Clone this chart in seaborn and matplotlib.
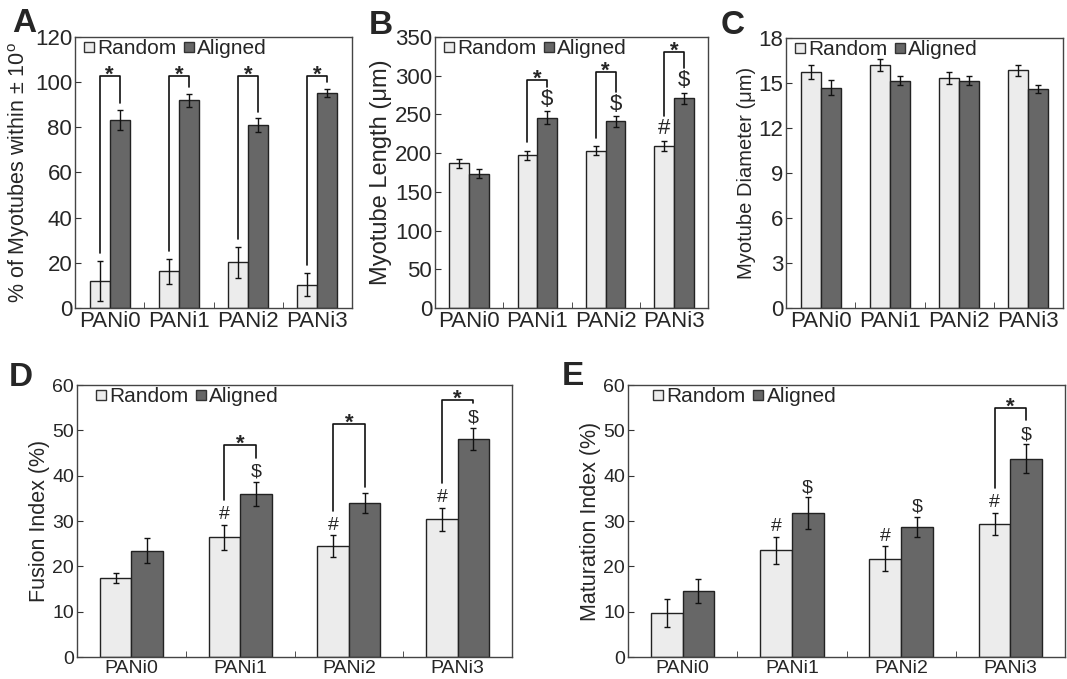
import numpy as np
import pandas as pd
import matplotlib
matplotlib.use("Agg")
import matplotlib.pyplot as plt
import seaborn as sns
from matplotlib.lines import Line2D

sns.set_style("white")
plt.rcParams['font.family'] = ['Liberation Sans', 'DejaVu Sans']
plt.rcParams['mathtext.fontset'] = 'custom'
plt.rcParams['mathtext.rm'] = 'Liberation Sans'

groups = ['PANi0', 'PANi1', 'PANi2', 'PANi3']
conditions = ['Random', 'Aligned']

# A: % of myotubes within +-10 deg
a_random = [12, 16.3, 20.3, 10.4]
a_random_err = [8.8, 5.5, 6.8, 5.0]
a_aligned = [83.4, 91.9, 81.0, 95.3]
a_aligned_err = [4.4, 3.0, 3.0, 1.8]

# B: myotube length (um)
b_random = [187, 197.4, 203.4, 209.8]
b_random_err = [6, 6, 6, 6.5]
b_aligned = [173.5, 246, 241, 271]
b_aligned_err = [6, 8, 7, 7]

# C: myotube diameter (um)
c_random = [15.75, 16.2, 15.35, 15.85]
c_random_err = [0.45, 0.37, 0.4, 0.38]
c_aligned = [14.7, 15.15, 15.15, 14.6]
c_aligned_err = [0.48, 0.3, 0.3, 0.28]

# D: fusion index (%)
d_random = [17.35, 26.4, 24.5, 30.4]
d_random_err = [1.1, 2.75, 2.4, 2.5]
d_aligned = [23.45, 35.96, 33.9, 48.1]
d_aligned_err = [2.8, 2.6, 2.2, 2.5]

# E: maturation index (%)
e_random = [9.7, 23.55, 21.7, 29.4]
e_random_err = [3.1, 3.0, 2.8, 2.45]
e_aligned = [14.5, 31.7, 28.7, 43.7]
e_aligned_err = [2.6, 3.5, 2.2, 3.2]

# significance marks: '#' over Random, '$' over Aligned, brackets (group, top)
b_hash = [3]
b_dollar = [1, 2, 3]
b_brackets = [(1, 294), (2, 305), (3, 330)]
a_brackets = [(0, 102.7), (1, 102.7), (2, 102.7), (3, 102.7)]
d_hash = [1, 2, 3]
d_dollar = [1, 3]
d_brackets = [(1, 46.8), (2, 51.3), (3, 56.6)]
e_hash = [1, 2, 3]
e_dollar = [1, 2, 3]
e_brackets = [(3, 54.9)]

light = '#ececec'
dark = '#676767'

W, H = 1067, 679
fig = plt.figure(figsize=(W / 100, H / 100), dpi=100)


def px_axes(l, t, r, b):
    return fig.add_axes([l / W, 1 - b / H, (r - l) / W, (b - t) / H])


def panel(ax, rnd, rnd_err, aln, aln_err, ylim, yticks, ylabel, fs, lfs,
          legx, hashes=(), dollars=(), brackets=()):
    df = pd.DataFrame({
        'group': groups * 2,
        'cond': ['Random'] * 4 + ['Aligned'] * 4,
        'value': list(rnd) + list(aln),
    })
    sns.barplot(data=df, x='group', y='value', hue='cond', hue_order=conditions,
                palette=[light, dark], width=0.58, edgecolor='#222222',
                linewidth=1.0, errorbar=None, legend=False, ax=ax)
    rng = ylim[1] - ylim[0]
    xr = [p.get_x() + p.get_width() / 2 for p in ax.containers[0]]
    xa = [p.get_x() + p.get_width() / 2 for p in ax.containers[1]]
    ax.errorbar(xr, rnd, yerr=rnd_err, fmt='none', ecolor='#111111',
                elinewidth=1.0, capsize=2.5, capthick=1.0)
    ax.errorbar(xa, aln, yerr=aln_err, fmt='none', ecolor='#111111',
                elinewidth=1.0, capsize=2.5, capthick=1.0)
    for i in hashes:
        ax.text(xr[i], rnd[i] + rnd_err[i] + 0.005 * rng, '#', ha='center',
                va='bottom', fontsize=fs)
    for i in dollars:
        ax.text(xa[i], aln[i] + aln_err[i] + 0.005 * rng, r'\$', ha='center',
                va='bottom', fontsize=fs)
    for i, top in brackets:
        lo_l = rnd[i] + rnd_err[i] + (0.09 if i in hashes else 0.03) * rng
        lo_r = aln[i] + aln_err[i] + (0.09 if i in dollars else 0.025) * rng
        ax.plot([xr[i], xr[i], xa[i], xa[i]], [lo_l, top, top, lo_r],
                color='#111111', lw=1.2)
        ax.text((xr[i] + xa[i]) / 2, top - 0.035 * rng, '*', ha='center',
                va='bottom', fontsize=16, fontweight='bold')
    ax.set_xlim(-0.5, 3.5)
    ax.set_ylim(*ylim)
    ax.set_yticks(yticks)
    ax.set_xlabel('')
    ax.set_ylabel(ylabel, fontsize=lfs, labelpad=2)
    ax.set_xticks(range(4))
    ax.set_xticklabels(groups)
    ax.set_xticks([0.5, 1.5, 2.5], minor=True)
    ax.tick_params(axis='x', which='major', length=0, labelsize=fs, pad=2)
    ax.tick_params(axis='x', which='minor', direction='in', length=4,
                   bottom=True, color='#333333')
    ax.tick_params(axis='y', direction='in', length=4, left=True,
                   labelsize=fs, pad=2, color='#333333')
    for s in ax.spines.values():
        s.set_color('#444444')
        s.set_linewidth(1.0)
    handles = [Line2D([], [], ls='none', marker='s', markersize=7.5,
                      markerfacecolor=c, markeredgecolor='#333333',
                      markeredgewidth=1.0) for c in (light, dark)]
    ax.legend(handles, conditions, loc='upper left', ncol=2, frameon=False,
              fontsize=15, handlelength=0.6, handletextpad=0.1,
              columnspacing=0.3, borderaxespad=0.0, borderpad=0.1,
              bbox_to_anchor=(legx, 1.0))


ax_a = px_axes(75, 37, 352, 308)
panel(ax_a, a_random, a_random_err, a_aligned, a_aligned_err, (0, 120),
      range(0, 121, 20), r'% of Myotubes within ± 10$^\mathregular{o}$', 16,
      15.5, 0.02, brackets=a_brackets)

ax_b = px_axes(435, 37, 708, 308)
panel(ax_b, b_random, b_random_err, b_aligned, b_aligned_err, (0, 350),
      range(0, 351, 50), 'Myotube Length (μm)', 16, 17, 0.02,
      hashes=b_hash, dollars=b_dollar, brackets=b_brackets)

ax_c = px_axes(786, 38, 1063, 308)
panel(ax_c, c_random, c_random_err, c_aligned, c_aligned_err, (0, 18),
      range(0, 19, 3), 'Myotube Diameter (μm)', 16, 14.5, 0.02)

ax_d = px_axes(77, 385, 512, 657)
panel(ax_d, d_random, d_random_err, d_aligned, d_aligned_err, (0, 60),
      range(0, 61, 10), 'Fusion Index (%)', 14, 15.5, 0.035,
      hashes=d_hash, dollars=d_dollar, brackets=d_brackets)

ax_e = px_axes(628, 385, 1065, 657)
panel(ax_e, e_random, e_random_err, e_aligned, e_aligned_err, (0, 60),
      range(0, 61, 10), 'Maturation Index (%)', 14, 15.5, 0.05,
      hashes=e_hash, dollars=e_dollar, brackets=e_brackets)

for letter, x, y in [('A', 12, 8), ('B', 369, 10), ('C', 721, 10),
                     ('D', 9, 362), ('E', 562, 361)]:
    fig.text(x / W, 1 - y / H, letter, fontsize=24, fontweight='bold',
             ha='left', va='top')

fig.savefig('out.png', dpi=100)
